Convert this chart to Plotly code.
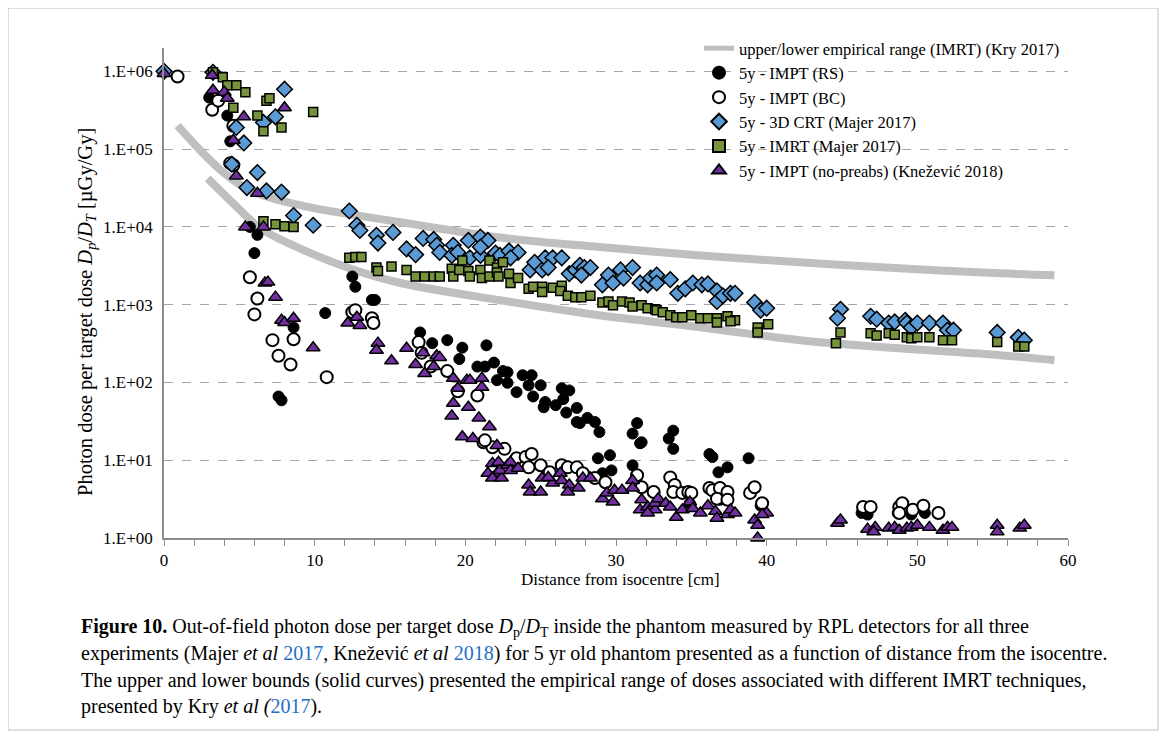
"""Out-of-field photon dose per target dose vs distance from isocentre (5 yr phantom)."""
import plotly.graph_objects as go

FONT = "Liberation Serif, Times New Roman, serif"
GREY_CURVE = "#BFBFBF"
BLUE = "#5B9BD5"
GREEN = "#77933C"
PURPLE = "#7030A0"
AXIS = "#8C8C8C"
GRID = "#A6A6A6"
LINK = "#1F6FC5"

# --- Kry 2017 empirical range (IMRT) ---
kry_upper_x = [0.9, 2.4, 4.0, 5.7, 9.0, 15.7, 22.3, 28.9, 35.6, 42.2, 48.8, 55.5, 59.1]
kry_upper_y = [2.0e5, 9.7e4, 4.9e4, 2.95e4, 1.9e4, 1.15e4, 7.3e3, 5.5e3, 4.3e3, 3.5e3, 2.94e3, 2.53e3, 2.39e3]
kry_lower_x = [2.9, 4.6, 6.4, 9.0, 12.4, 15.7, 22.3, 28.9, 35.6, 42.2, 48.8, 55.5, 59.1]
kry_lower_y = [4.2e4, 2.0e4, 9.6e3, 5.3e3, 2.9e3, 1.9e3, 1.14e3, 730, 513, 349, 275, 224, 193]

# --- 5y - IMPT (RS) ---
rs_x = [3.0, 4.2, 4.4, 5.7, 6.2, 6.0, 10.7, 8.6, 7.6, 7.8, 12.5, 12.7, 13.8, 14.0,
        17.0, 17.8, 18.8, 19.8, 21.4, 19.6, 20.8, 21.3, 21.9, 22.5, 22.1, 22.8, 22.8,
        23.4, 23.8, 24.4, 24.2, 25.0, 24.5, 25.3, 25.2, 26.0, 26.4, 26.9, 26.5, 26.7,
        27.4, 27.4, 28.1, 27.6, 28.6, 28.9, 31.4, 31.1, 31.6, 28.8, 29.6, 31.1, 29.1,
        31.7, 33.8, 33.5, 33.8, 36.2, 36.4, 36.8, 37.4, 38.8,
        29.7, 34.9, 36.9, 39.6, 46.3, 46.7, 48.7, 49.6, 50.5]
rs_y = [4.6e5, 2.7e5, 1.26e5, 1.0e4, 7.9e3, 4.6e3, 780, 510, 66, 59, 2.3e3, 1.7e3, 1.15e3, 1.15e3,
        440, 320, 350, 280, 300, 200, 160, 160, 180, 140, 107, 99, 135,
        75, 124, 124, 92, 92, 66, 56, 48, 51, 84, 79, 61, 41,
        47, 31, 35, 30, 31, 23, 30, 22, 16.5, 10.6, 11.6, 8.6, 6.8,
        17, 24, 19, 14, 12, 11, 7.0, 8.1, 10.6,
        7.4, 2.8, 3.1, 2.6, 2.1, 2.0, 2.1, 2.0, 2.1]

# --- 5y - IMPT (BC) ---
bc_x = [0.9, 3.2, 3.6, 4.6, 4.4, 4.6, 5.7, 6.2, 6.0, 7.2, 8.6, 7.6, 8.4, 10.8,
        12.5, 12.7, 13.8, 13.9, 16.9, 17.1, 17.7, 18.8, 19.5, 20.8, 21.2, 21.8, 22.6, 21.3,
        23.4, 24.0, 24.4, 24.2, 25.0, 25.6, 26.4, 26.8, 27.4, 27.8, 28.6, 29.3,
        31.4, 31.7, 32.5, 33.6, 33.9, 33.8, 34.4, 34.8, 35.0, 36.2, 36.4, 36.9, 36.7,
        37.4, 37.4, 38.9, 39.2, 39.7,
        46.4, 46.9, 48.8, 49.0, 48.8, 49.7, 50.4, 51.4]
bc_y = [8.6e5, 3.2e5, 4.2e5, 2.0e5, 6.6e4, 6.2e4, 2.25e3, 1.2e3, 750, 350, 360, 220, 170, 117,
        800, 850, 670, 580, 330, 240, 160, 140, 77, 68, 17, 14.7, 14, 18,
        10.6, 11, 12, 8.1, 8.6, 7.0, 8.6, 8.1, 8.1, 6.8, 5.9, 5.2,
        6.4, 4.5, 3.9, 6.0, 4.8, 3.9, 3.8, 3.9, 3.8, 4.4, 4.1, 4.4, 3.2,
        3.9, 3.1, 3.8, 4.5, 2.8,
        2.5, 2.5, 2.5, 2.8, 2.1, 2.3, 2.6, 2.1]

# --- 5y - 3D CRT (Majer 2017) ---
crt_x = [0.0, 3.25, 8.0, 6.6, 7.4, 4.8, 5.3, 4.5, 6.2, 5.5, 6.8, 7.8, 8.6, 9.9,
         12.3, 12.8, 13.0, 14.1, 14.2, 15.2, 16.1, 16.7, 17.2, 17.9, 18.1, 18.3, 19.2, 19.1,
         19.5, 20.2, 20.3, 21.0, 21.5, 21.0, 21.0, 22.0, 22.3, 22.9, 23.5, 23.0,
         24.3, 24.6, 25.1, 25.3, 25.8, 26.4, 25.5, 26.9, 27.3, 27.6, 27.9, 28.3, 27.7,
         29.1, 29.5, 29.8, 30.3, 30.5, 31.1, 31.6, 32.1, 32.3, 32.7, 32.7, 33.6,
         34.1, 34.6, 35.1, 35.7, 36.1, 36.7, 36.7, 37.1, 37.6, 37.9, 39.2, 39.6, 40.0,
         44.9, 44.7, 46.9, 47.3, 48.1, 48.5, 49.2, 49.3, 49.6, 50.0, 50.8, 51.7, 52.0, 52.4,
         55.3, 56.7, 57.1]
crt_y = [1.0e6, 9.7e5, 5.9e5, 2.2e5, 2.6e5, 1.9e5, 1.2e5, 6.4e4, 5.0e4, 3.2e4, 2.9e4, 2.8e4, 1.4e4, 1.05e4,
         1.6e4, 1.05e4, 9.0e3, 7.8e3, 6.2e3, 8.5e3, 5.2e3, 4.4e3, 7.1e3, 6.9e3, 5.8e3, 4.7e3, 5.8e3, 4.3e3,
         4.7e3, 6.7e3, 4.0e3, 7.4e3, 6.7e3, 4.3e3, 5.5e3, 4.6e3, 4.3e3, 4.9e3, 4.7e3, 4.0e3,
         2.8e3, 3.5e3, 2.8e3, 4.0e3, 4.0e3, 4.0e3, 3.0e3, 2.5e3, 2.8e3, 3.2e3, 3.0e3, 3.0e3, 2.4e3,
         1.8e3, 2.4e3, 1.9e3, 2.8e3, 2.2e3, 3.0e3, 1.9e3, 1.8e3, 2.2e3, 2.4e3, 1.9e3, 2.1e3,
         1.4e3, 1.6e3, 1.9e3, 1.8e3, 1.85e3, 1.5e3, 1.1e3, 1.3e3, 1.4e3, 1.4e3, 1.07e3, 850, 900,
         870, 670, 710, 650, 580, 600, 630, 580, 510, 580, 580, 580, 470, 470,
         440, 380, 350]

# --- 5y - IMRT (Majer 2017) ---
imrt_x = [3.25, 3.9, 4.2, 4.8, 5.4, 4.6, 6.8, 7.0, 6.2, 6.6, 7.8, 9.9,
          6.6, 7.4, 8.0, 8.6,
          12.3, 12.7, 13.1, 14.1, 14.2, 15.1, 16.1, 16.7, 17.3, 17.9, 18.3, 19.1, 19.2, 19.8,
          19.6, 20.2, 20.3, 21.0, 21.1, 21.6, 21.6, 22.1, 22.1, 22.5, 22.2, 22.9, 23.0, 23.5,
          24.2, 24.5, 25.1, 25.1, 25.8, 26.4, 26.3, 26.8, 27.3, 27.7, 28.3,
          29.1, 29.5, 29.8, 30.4, 30.9, 31.1, 31.7, 32.1, 32.6, 32.7, 33.1, 33.6, 34.0, 34.4,
          35.0, 35.6, 36.1, 36.7, 36.7, 37.4, 37.9, 37.6, 39.4, 40.1, 39.4,
          44.9, 44.6, 46.9, 47.3, 48.1, 48.5, 49.3, 49.6, 50.0, 50.8, 51.7, 52.3,
          55.3, 56.7, 57.1]
imrt_y = [9.7e5, 8.4e5, 6.6e5, 6.6e5, 5.4e5, 3.4e5, 4.2e5, 4.5e5, 2.7e5, 1.7e5, 1.9e5, 3.0e5,
          1.18e4, 1.08e4, 1.02e4, 1.0e4,
          4.0e3, 4.1e3, 4.1e3, 3.0e3, 2.7e3, 3.1e3, 2.8e3, 2.3e3, 2.3e3, 2.3e3, 2.3e3, 2.9e3, 2.3e3, 3.7e3,
          2.8e3, 2.7e3, 2.3e3, 2.8e3, 2.2e3, 3.7e3, 2.3e3, 3.0e3, 2.6e3, 3.5e3, 2.3e3, 2.5e3, 1.9e3, 2.2e3,
          1.6e3, 1.7e3, 1.7e3, 1.45e3, 1.65e3, 1.75e3, 1.5e3, 1.3e3, 1.25e3, 1.25e3, 1.3e3,
          1.07e3, 1.1e3, 980, 1.1e3, 1.07e3, 950, 980, 900, 870, 850, 800, 730, 690, 690,
          730, 670, 670, 670, 590, 710, 630, 610, 510, 560, 440,
          440, 320, 430, 400, 430, 410, 380, 370, 380, 380, 350, 350,
          330, 290, 290]

# --- 5y - IMPT (no-preabs) (Knežević 2018) ---
np_x = [0.0, 3.2, 3.25, 4.0, 4.2, 8.0, 5.3, 4.6, 4.8, 6.2, 5.4, 6.6,
        6.7, 6.9, 7.4, 7.8, 8.0, 8.6, 9.9, 12.2, 12.8, 13.0, 14.2, 14.1, 15.1, 16.1,
        16.7, 17.2, 17.3, 17.9, 18.1, 18.3, 19.2, 19.5, 20.1, 20.3, 21.1, 21.1,
        19.2, 19.1, 20.2, 20.9, 21.6, 19.8, 20.5, 22.1, 21.8, 22.2, 21.5, 22.1, 21.8, 22.4,
        22.3, 22.8, 23.0, 23.0, 23.5, 24.2, 24.3, 25.0, 25.1, 25.8, 25.5, 26.3, 26.4, 26.9,
        26.8, 27.5, 27.8, 28.3, 29.1, 29.4, 29.8, 29.9, 30.4, 31.1, 31.1, 31.7, 31.6, 32.1,
        32.6, 32.6, 32.1, 32.8, 33.3, 33.6, 34.0, 34.4, 34.9, 35.1, 35.6, 36.1, 36.6, 36.7,
        37.4, 37.6, 37.9, 39.2, 39.4, 40.0, 39.7, 39.4,
        44.7, 44.9, 46.7, 47.2, 47.1, 48.1, 48.5, 48.8, 49.3, 49.6, 50.0, 50.8, 51.7, 52.0,
        52.3, 55.3, 55.3, 56.8, 57.1]
np_y = [9.4e5, 8.9e5, 5.7e5, 5.4e5, 4.5e5, 3.4e5, 2.6e5, 1.3e5, 4.5e4, 2.7e4, 1.0e4, 1.0e4,
        1.9e3, 1.95e3, 1.25e3, 630, 590, 670, 280, 580, 690, 540, 320, 260, 190, 275,
        170, 240, 130, 160, 220, 210, 113, 84, 107, 107, 113, 87,
        54, 37, 48, 35, 27, 20, 19, 15.5, 9.1, 9.4, 6.8, 6.8, 5.9, 5.9,
        7.4, 8.6, 9.4, 7.4, 7.9, 4.8, 3.9, 3.9, 5.9, 5.1, 6.0, 6.8, 5.5, 4.8,
        3.9, 4.4, 5.9, 5.9, 3.2, 3.8, 2.9, 4.1, 4.1, 5.5, 4.4, 3.1, 2.3, 2.5,
        2.3, 2.8, 2.1, 3.2, 2.8, 2.5, 1.85, 2.3, 2.9, 2.4, 2.1, 2.6, 2.2, 1.8,
        2.0, 2.3, 2.1, 1.7, 1.46, 2.1, 2.0, 1.0,
        1.55, 1.7, 1.3, 1.37, 1.2, 1.34, 1.37, 1.26, 1.34, 1.37, 1.46, 1.37, 1.26, 1.37,
        1.37, 1.46, 1.2, 1.34, 1.46]

Y_TICKS = [1, 10, 100, 1e3, 1e4, 1e5, 1e6]
Y_TICK_TEXT = ["1.E+00", "1.E+01", "1.E+02", "1.E+03", "1.E+04", "1.E+05", "1.E+06"]
X_TICKS = [0, 10, 20, 30, 40, 50, 60]

fig = go.Figure()

fig.add_trace(go.Scatter(
    x=kry_upper_x, y=kry_upper_y, mode="lines", line=dict(color=GREY_CURVE, width=8, shape="spline"),
    name="upper/lower empirical range (IMRT) (Kry 2017)", legendgroup="kry",
))
fig.add_trace(go.Scatter(
    x=kry_lower_x, y=kry_lower_y, mode="lines", line=dict(color=GREY_CURVE, width=8, shape="spline"),
    name="lower", legendgroup="kry", showlegend=False,
))

series = [
    ("5y - IMPT (RS)", rs_x, rs_y, dict(symbol="circle", size=11, color="black", line=dict(color="black", width=1))),
    ("5y - IMPT (BC)", bc_x, bc_y, dict(symbol="circle", size=12, color="white", line=dict(color="black", width=2))),
    ("5y - 3D CRT (Majer 2017)", crt_x, crt_y, dict(symbol="diamond", size=12, color=BLUE, line=dict(color="black", width=1.5))),
    ("5y - IMRT (Majer 2017)", imrt_x, imrt_y, dict(symbol="square", size=9, color=GREEN, line=dict(color="black", width=1.5))),
    ("5y - IMPT (no-preabs) (Knežević 2018)", np_x, np_y, dict(symbol="triangle-up", size=12, color=PURPLE, line=dict(color="black", width=1.5))),
]
for name, xs, ys, mk in series:
    fig.add_trace(go.Scatter(x=xs, y=ys, mode="markers", marker=mk, name=name, cliponaxis=False))

fig.update_xaxes(
    range=[0, 60], tickvals=X_TICKS, showgrid=False, zeroline=False,
    showline=True, linecolor=AXIS, linewidth=1.5,
    ticks="outside", ticklen=6, tickcolor=AXIS,
    minor=dict(dtick=2, ticks="outside", ticklen=6, tickcolor=AXIS, showgrid=False),
    tickfont=dict(family=FONT, size=17, color="black"),
)
fig.update_yaxes(
    type="log", range=[0, 6.3], tickvals=Y_TICKS, ticktext=Y_TICK_TEXT,
    showgrid=True, gridcolor=GRID, griddash="dash", gridwidth=1.2, zeroline=False,
    showline=True, linecolor=AXIS, linewidth=1.5, ticklabelstandoff=6,
    tickfont=dict(family=FONT, size=17, color="black"),
)

# the page puts the figure 8 px in from the top-left corner of the window
OFF = 8
PW = 1068 - 164
PH = 538 - 48


def px(x):
    return (x - 164) / PW


def py(y):
    return (538 - y) / PH


annotations = [
    dict(text="Distance from isocentre [cm]", x=px(620), y=py(579), xref="paper", yref="paper",
         xanchor="center", yanchor="middle",
         showarrow=False, font=dict(family=FONT, size=17, color="black")),
    dict(text="Photon dose per target dose <i>D<sub>p</sub></i>/<i>D<sub>T</sub></i> [µGy/Gy]",
         x=px(86), y=py(312), xref="paper", yref="paper", textangle=-90,
         xanchor="center", yanchor="middle",
         showarrow=False, font=dict(family=FONT, size=20.5, color="black")),
]

caption = [
    "<b>Figure 10.</b> Out-of-field photon dose per target dose <i>D</i><sub>p</sub>/<i>D</i><sub>T</sub> inside the phantom measured by RPL detectors for all three",
    f"experiments (Majer <i>et al</i> <span style='color:{LINK}'>2017</span>, Knežević <i>et al</i> <span style='color:{LINK}'>2018</span>) for 5 yr old phantom presented as a function of distance from the isocentre.",
    "The upper and lower bounds (solid curves) presented the empirical range of doses associated with different IMRT techniques,",
    f"presented by Kry <i>et al</i> <i>(</i><span style='color:{LINK}'>2017</span>).",
]
for i, line in enumerate(caption):
    annotations.append(dict(
        text=line, x=px(79), y=py(627 + i * 26.5), xref="paper", yref="paper",
        xanchor="left", yanchor="middle", showarrow=False,
        font=dict(family=FONT, size=20, color="black"),
    ))

fig.update_layout(
    width=1167, height=737,
    paper_bgcolor="white", plot_bgcolor="white",
    margin=dict(l=164 - OFF, r=1167 - 1068 + OFF, t=48 - OFF, b=737 - 538 + OFF),
    font=dict(family=FONT, color="black"),
    annotations=annotations,
    legend=dict(
        x=px(699), y=py(31), xanchor="left", yanchor="top",
        font=dict(family=FONT, size=16.5, color="black"),
        bgcolor="rgba(0,0,0,0)", tracegroupgap=0, itemwidth=30, itemsizing="constant",
    ),
    shapes=[
        dict(type="rect", xref="paper", yref="paper", x0=px(8), x1=px(1158), y0=py(730), y1=py(8),
             line=dict(color="#BDBDBD", width=1), layer="above"),
    ],
)

fig.write_html("out.html")
